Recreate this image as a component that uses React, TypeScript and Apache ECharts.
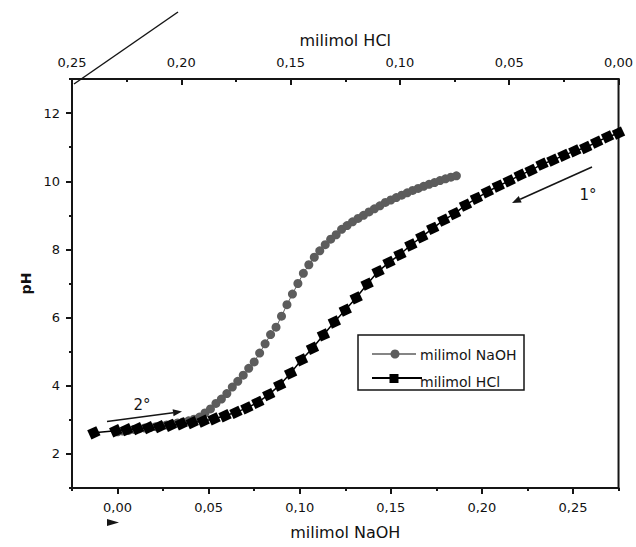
import React, { useEffect, useRef } from "react";
import * as echarts from "echarts";

// milimol NaOH added (bottom axis) and measured pH
const naohMmol = [0, 0.003, 0.006, 0.009, 0.012, 0.015, 0.018, 0.021, 0.024, 0.027, 0.03, 0.033, 0.036, 0.039, 0.042, 0.045, 0.048, 0.051, 0.054, 0.057, 0.06, 0.063, 0.066, 0.069, 0.072, 0.075, 0.078, 0.081, 0.084, 0.087, 0.09, 0.093, 0.096, 0.099, 0.102, 0.105, 0.108, 0.111, 0.114, 0.117, 0.12, 0.123, 0.126, 0.129, 0.132, 0.135, 0.138, 0.141, 0.144, 0.147, 0.15, 0.153, 0.156, 0.159, 0.162, 0.165, 0.168, 0.171, 0.174, 0.177, 0.18, 0.183, 0.186];
const naohPH = [2.65, 2.67, 2.69, 2.72, 2.74, 2.76, 2.78, 2.8, 2.83, 2.85, 2.88, 2.91, 2.94, 2.97, 3.02, 3.08, 3.2, 3.32, 3.48, 3.61, 3.77, 3.96, 4.13, 4.31, 4.51, 4.7, 4.96, 5.23, 5.5, 5.72, 6.04, 6.38, 6.69, 7.0, 7.3, 7.55, 7.77, 7.96, 8.14, 8.3, 8.43, 8.59, 8.7, 8.81, 8.91, 9.0, 9.1, 9.19, 9.28, 9.38, 9.45, 9.52, 9.59, 9.66, 9.73, 9.79, 9.85, 9.91, 9.96, 10.02, 10.07, 10.12, 10.16];

// milimol HCl added (top axis, reversed) and measured pH
const hclMmol = [0, 0.005, 0.01, 0.015, 0.02, 0.025, 0.03, 0.035, 0.04, 0.045, 0.05, 0.055, 0.06, 0.065, 0.07, 0.075, 0.08, 0.085, 0.09, 0.095, 0.1, 0.105, 0.11, 0.115, 0.12, 0.125, 0.13, 0.135, 0.14, 0.145, 0.15, 0.155, 0.16, 0.165, 0.17, 0.175, 0.18, 0.185, 0.19, 0.195, 0.2, 0.205, 0.21, 0.215, 0.22, 0.225, 0.23, 0.24];
const hclPH = [11.41, 11.3, 11.15, 10.99, 10.89, 10.76, 10.62, 10.5, 10.32, 10.18, 10.01, 9.86, 9.69, 9.5, 9.3, 9.05, 8.86, 8.62, 8.37, 8.13, 7.85, 7.62, 7.35, 6.98, 6.58, 6.22, 5.87, 5.49, 5.1, 4.76, 4.37, 4.02, 3.74, 3.51, 3.35, 3.22, 3.12, 3.03, 2.96, 2.92, 2.88, 2.84, 2.8, 2.77, 2.74, 2.71, 2.68, 2.62];

// tick values
const bottomMajorTicks = [0, 0.05, 0.1, 0.15, 0.2, 0.25];
const bottomMinorTicks = [-0.025, 0.025, 0.075, 0.125, 0.175, 0.225, 0.275];
const yMajorTicks = [2, 4, 6, 8, 10, 12];
const yMinorTicks = [1, 3, 5, 7, 9, 11, 13];

const seriesNames = ["milimol NaOH", "milimol HCl"];

const FONT = "DejaVu Sans";
const INK = "#151515";
const GRAY = "#5c5c5c";

const fmt = (v: number) => (Math.abs(v) < 1e-9 ? 0 : v).toFixed(2).replace(".", ",");

function arrow(x1: number, y1: number, x2: number, y2: number) {
  const dx = x2 - x1, dy = y2 - y1;
  const len = Math.hypot(dx, dy);
  const ux = dx / len, uy = dy / len;
  const hl = 9, hw = 3.5;
  const bx = x2 - ux * hl, by = y2 - uy * hl;
  const px = -uy, py = ux;
  return [
    { type: "line", shape: { x1, y1, x2: bx, y2: by }, style: { stroke: INK, lineWidth: 1.6 } },
    {
      type: "polygon",
      shape: { points: [[x2, y2], [bx + px * hw, by + py * hw], [bx - px * hw, by - py * hw]] },
      style: { fill: INK },
    },
  ];
}

export default function App() {
  const ref = useRef<HTMLDivElement>(null);
  useEffect(() => {
    if (!ref.current) return;
    const chart = echarts.init(ref.current, null, { renderer: "svg" });
    const labelStyle = { fontFamily: FONT, fontSize: 13, color: "#111" };
    const nameStyle = { fontFamily: FONT, fontSize: 16, color: "#111" };
    const axisLine = { show: true, onZero: false, lineStyle: { color: INK, width: 2 } };
    const option: any = {
      animation: false,
      grid: { left: 72, right: 16, top: 79, bottom: 59, show: true, borderColor: INK, borderWidth: 2, backgroundColor: "transparent" },
      xAxis: [
        {
          type: "value", position: "bottom", min: -0.025, max: 0.275, interval: 0.025,
          axisLine,
          axisTick: { show: true, customValues: bottomMajorTicks, length: 6, lineStyle: { color: INK, width: 2 } },
          axisLabel: { customValues: bottomMajorTicks, formatter: fmt, margin: 13, ...labelStyle },
          splitLine: { show: false },
          name: "milimol NaOH", nameLocation: "middle", nameGap: 36, nameTextStyle: nameStyle,
        },
        {
          type: "value", position: "bottom", offset: 0, min: -0.025, max: 0.275, interval: 0.025,
          axisLine: { show: false, onZero: false },
          axisTick: { show: true, customValues: bottomMinorTicks, length: 3, lineStyle: { color: INK, width: 2 } },
          axisLabel: { show: false },
          splitLine: { show: false },
        },
        {
          type: "value", position: "top", inverse: true, min: 0, max: 0.25, interval: 0.05,
          axisLine,
          axisTick: { show: true, inside: true, length: 6, lineStyle: { color: INK, width: 2 } },
          minorTick: { show: true, splitNumber: 2, length: 3, lineStyle: { color: INK, width: 2 } },
          axisLabel: { formatter: fmt, margin: 10, ...labelStyle },
          splitLine: { show: false },
          name: "milimol HCl", nameLocation: "middle", nameGap: 31, nameTextStyle: nameStyle,
        },
      ],
      yAxis: [
        {
          type: "value", position: "left", min: 1, max: 13, interval: 1,
          axisLine,
          axisTick: { show: true, customValues: yMajorTicks, length: 6, lineStyle: { color: INK, width: 2 } },
          axisLabel: { customValues: yMajorTicks, margin: 12, ...labelStyle },
          splitLine: { show: false },
          name: "pH", nameLocation: "middle", nameGap: 38, nameRotate: 90,
          nameTextStyle: { fontFamily: FONT, fontSize: 14, fontWeight: "bold", color: "#111" },
        },
        {
          type: "value", position: "left", offset: 0, min: 1, max: 13, interval: 1,
          axisLine: { show: false, onZero: false },
          axisTick: { show: true, customValues: yMinorTicks, length: 3, lineStyle: { color: INK, width: 2 } },
          axisLabel: { show: false },
          splitLine: { show: false },
        },
      ],
      series: [
        {
          name: seriesNames[0], type: "line", xAxisIndex: 0, yAxisIndex: 0,
          data: naohMmol.map((x, i) => [x, naohPH[i]]),
          symbol: "circle", symbolSize: 9,
          itemStyle: { color: GRAY },
          lineStyle: { color: GRAY, width: 1 },
          z: 2,
        },
        {
          name: seriesNames[1], type: "line", xAxisIndex: 2, yAxisIndex: 0,
          data: hclMmol.map((x, i) => [x, hclPH[i]]),
          symbol: "rect", symbolSize: 10, symbolRotate: 25,
          itemStyle: { color: "#000" },
          lineStyle: { color: "#000", width: 1.5 },
          z: 3,
        },
      ],
      graphic: [
        { type: "line", shape: { x1: 74, y1: 84, x2: 178, y2: 12 }, style: { stroke: INK, lineWidth: 1.5 } },
        { type: "polygon", shape: { points: [[107, 519], [119, 522.5], [107, 526]] }, style: { fill: INK } },
        ...arrow(107, 421.5, 182, 411.5),
        { type: "text", x: 142, y: 405, style: { text: "2°", fontFamily: FONT, fontSize: 15, fill: INK, align: "center", verticalAlign: "middle" } },
        ...arrow(592, 167, 512, 203),
        { type: "text", x: 588, y: 195, style: { text: "1°", fontFamily: FONT, fontSize: 15, fill: INK, align: "center", verticalAlign: "middle" } },
        // legend
        { type: "rect", shape: { x: 358, y: 335, width: 166, height: 55 }, style: { fill: "#fff", stroke: INK, lineWidth: 1.5 } },
        { type: "line", shape: { x1: 372, y1: 354, x2: 416, y2: 354 }, style: { stroke: GRAY, lineWidth: 1.5 } },
        { type: "circle", shape: { cx: 395, cy: 354, r: 4.5 }, style: { fill: GRAY } },
        { type: "text", x: 420, y: 355, style: { text: seriesNames[0], fontFamily: FONT, fontSize: 14, fill: INK, verticalAlign: "middle" } },
        { type: "text", x: 420, y: 382, style: { text: seriesNames[1], fontFamily: FONT, fontSize: 14, fill: INK, verticalAlign: "middle" } },
        { type: "line", shape: { x1: 372, y1: 378, x2: 422, y2: 378 }, style: { stroke: "#000", lineWidth: 1.8 } },
        { type: "rect", shape: { x: 389.5, y: 374, width: 9, height: 9 }, style: { fill: "#000" } },
      ],
    };
    chart.setOption(option);
    return () => chart.dispose();
  }, []);
  return <div ref={ref} style={{ width: 636, height: 547, position: "absolute", left: 0, top: 0, background: "#fff" }} />;
}
